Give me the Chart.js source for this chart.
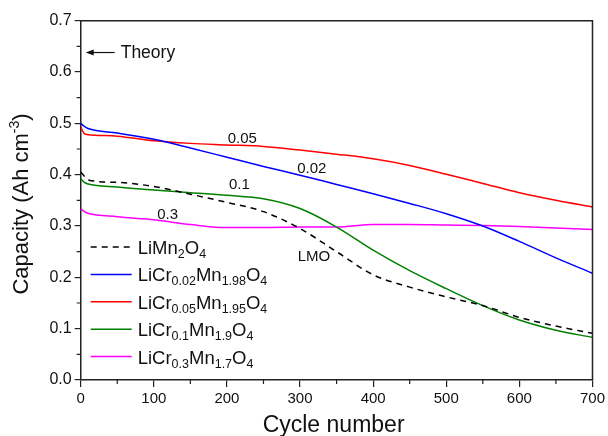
<!DOCTYPE html>
<html>
<head>
<meta charset="utf-8">
<script src="https://cdn.jsdelivr.net/npm/chart.js@4.4.1/dist/chart.umd.min.js"></script>
<style>
  html, body { margin: 0; padding: 0; background: #fff; }
</style>
</head>
<body>
<canvas id="capacityChart" width="608" height="436"></canvas>
<script>
// Cycle numbers shared by all curves
const cycles = [0, 5, 10, 50, 100, 150, 200, 250, 300, 350, 400, 450, 500, 550, 600, 650, 700];

// Capacity (Ah cm-3)
const lmo    = [0.405, 0.397, 0.390, 0.385, 0.377, 0.362, 0.346, 0.328, 0.295, 0.250, 0.205, 0.181, 0.162, 0.145, 0.122, 0.105, 0.091];
const cr002  = [0.500, 0.494, 0.490, 0.481, 0.469, 0.452, 0.434, 0.416, 0.399, 0.381, 0.363, 0.344, 0.324, 0.300, 0.270, 0.238, 0.208];
const cr005  = [0.493, 0.480, 0.478, 0.475, 0.466, 0.461, 0.458, 0.455, 0.448, 0.440, 0.431, 0.418, 0.401, 0.383, 0.365, 0.350, 0.337];
const cr01   = [0.392, 0.385, 0.382, 0.376, 0.370, 0.365, 0.360, 0.353, 0.334, 0.298, 0.253, 0.213, 0.178, 0.145, 0.117, 0.097, 0.083];
const cr03   = [0.334, 0.328, 0.325, 0.318, 0.312, 0.303, 0.297, 0.297, 0.298, 0.298, 0.303, 0.303, 0.302, 0.301, 0.299, 0.296, 0.293];

// Legend names split into [text, subscript] pieces
const legendNames = [
  [['LiMn', ''], ['', '2'], ['O', '4']],
  [['LiCr', '0.02'], ['Mn', '1.98'], ['O', '4']],
  [['LiCr', '0.05'], ['Mn', '1.95'], ['O', '4']],
  [['LiCr', '0.1'], ['Mn', '1.9'], ['O', '4']],
  [['LiCr', '0.3'], ['Mn', '1.7'], ['O', '4']]
];

// Curve labels inside the plot: [text, cycle, capacity]
const curveLabels = [
  ['0.05', 221, 0.469],
  ['0.02', 316, 0.411],
  ['0.1', 217, 0.380],
  ['0.3', 119, 0.321],
  ['LMO', 319, 0.240]
];
const theoryValue = 0.638;

const FONT = '"Liberation Sans", Arial, sans-serif';

function toPoints(values) {
  return values.map((v, i) => ({ x: cycles[i], y: v }));
}

function line(label, values, color, dash) {
  return {
    label: label,
    data: toPoints(values),
    borderColor: color,
    backgroundColor: color,
    borderWidth: 1.5,
    borderDash: dash || [],
    pointRadius: 0,
    cubicInterpolationMode: 'monotone',
    fill: false
  };
}

// Draws frame, minor ticks, titles, labels and legend
const decorations = {
  id: 'decorations',
  afterDraw(chart) {
    const ctx = chart.ctx;
    const x = chart.scales.x;
    const y = chart.scales.y;
    const a = chart.chartArea;
    ctx.save();

    // top and right frame
    ctx.strokeStyle = '#222';
    ctx.lineWidth = 1.5;
    ctx.beginPath();
    ctx.moveTo(a.left, a.top);
    ctx.lineTo(a.right, a.top);
    ctx.lineTo(a.right, a.bottom);
    ctx.stroke();

    // minor ticks
    ctx.lineWidth = 1.2;
    ctx.beginPath();
    for (let c = 50; c < 700; c += 100) {
      const px = x.getPixelForValue(c);
      ctx.moveTo(px, a.bottom);
      ctx.lineTo(px, a.bottom + 4);
    }
    for (let v = 0.05; v < 0.7; v += 0.1) {
      const py = y.getPixelForValue(v);
      ctx.moveTo(a.left, py);
      ctx.lineTo(a.left - 4, py);
    }
    ctx.stroke();

    // axis titles
    ctx.fillStyle = '#111';
    ctx.textBaseline = 'alphabetic';
    ctx.textAlign = 'center';
    ctx.font = '23px ' + FONT;
    ctx.fillText('Cycle number', (a.left + a.right) / 2 - 3, 432);

    ctx.save();
    ctx.translate(28, 204);
    ctx.rotate(-Math.PI / 2);
    ctx.textAlign = 'left';
    const main1 = 'Capacity (Ah cm';
    ctx.font = '22px ' + FONT;
    const w1 = ctx.measureText(main1).width;
    const w3 = ctx.measureText(')').width;
    ctx.font = '14px ' + FONT;
    const w2 = ctx.measureText('-3').width;
    let sx = -(w1 + w2 + w3) / 2;
    ctx.font = '22px ' + FONT;
    ctx.fillText(main1, sx, 0);
    ctx.font = '14px ' + FONT;
    ctx.fillText('-3', sx + w1, -9);
    ctx.font = '22px ' + FONT;
    ctx.fillText(')', sx + w1 + w2, 0);
    ctx.restore();

    // Theory arrow
    const ty = y.getPixelForValue(theoryValue);
    ctx.strokeStyle = '#111';
    ctx.lineWidth = 1.2;
    ctx.beginPath();
    ctx.moveTo(a.left + 34, ty);
    ctx.lineTo(a.left + 10, ty);
    ctx.stroke();
    ctx.beginPath();
    ctx.moveTo(a.left + 5, ty);
    ctx.lineTo(a.left + 13, ty - 3);
    ctx.lineTo(a.left + 13, ty + 3);
    ctx.closePath();
    ctx.fill();
    ctx.textAlign = 'left';
    ctx.textBaseline = 'middle';
    ctx.font = '17.5px ' + FONT;
    ctx.fillText('Theory', a.left + 40, ty + 1);

    // curve labels
    ctx.textAlign = 'center';
    ctx.font = '15px ' + FONT;
    curveLabels.forEach(([t, cx, cv]) => {
      ctx.fillText(t, x.getPixelForValue(cx), y.getPixelForValue(cv));
    });

    // legend
    const rowTop = 247;
    const rowGap = 27.4;
    chart.data.datasets.forEach((ds, i) => {
      const ry = rowTop + i * rowGap;
      ctx.strokeStyle = ds.borderColor;
      ctx.lineWidth = 1.5;
      ctx.setLineDash(ds.borderDash);
      ctx.beginPath();
      ctx.moveTo(a.left + 10, ry);
      ctx.lineTo(a.left + 51, ry);
      ctx.stroke();
      ctx.setLineDash([]);
      ctx.fillStyle = '#111';
      ctx.textAlign = 'left';
      ctx.textBaseline = 'alphabetic';
      let lx = a.left + 57;
      legendNames[i].forEach(([main, sub]) => {
        ctx.font = '18.5px ' + FONT;
        ctx.fillText(main, lx, ry + 7);
        lx += ctx.measureText(main).width;
        if (sub) {
          ctx.font = '12.5px ' + FONT;
          ctx.fillText(sub, lx, ry + 11);
          lx += ctx.measureText(sub).width;
        }
      });
    });

    ctx.restore();
  }
};

const ctx = document.getElementById('capacityChart').getContext('2d');
const capacityChart = new Chart(ctx, {
  type: 'line',
  data: {
    datasets: [
      line('LiMn2O4', lmo, '#000000', [6, 5]),
      line('LiCr0.02Mn1.98O4', cr002, '#0000ff'),
      line('LiCr0.05Mn1.95O4', cr005, '#ff0000'),
      line('LiCr0.1Mn1.9O4', cr01, '#008000'),
      line('LiCr0.3Mn1.7O4', cr03, '#ff00ff')
    ]
  },
  options: {
    responsive: false,
    animation: false,
    layout: { padding: { left: 0, right: 14.5, top: 20.7, bottom: 0 } },
    plugins: {
      legend: { display: false },
      tooltip: { enabled: false }
    },
    scales: {
      x: {
        type: 'linear',
        min: 0,
        max: 700,
        afterFit: (s) => { s.height = 56; },
        border: { color: '#222', width: 1.5 },
        grid: { drawOnChartArea: false, drawTicks: true, tickLength: 7, color: '#222', lineWidth: 1.2 },
        ticks: { stepSize: 100, color: '#111', font: { family: FONT, size: 15 }, padding: 3, maxRotation: 0 }
      },
      y: {
        min: 0,
        max: 0.7,
        afterFit: (s) => { s.width = 80.7; },
        border: { color: '#222', width: 1.5 },
        grid: { drawOnChartArea: false, drawTicks: true, tickLength: 6, color: '#222', lineWidth: 1.2 },
        ticks: {
          stepSize: 0.1,
          color: '#111',
          font: { family: FONT, size: 16 },
          padding: 3,
          callback: (v) => v.toFixed(1)
        }
      }
    }
  },
  plugins: [decorations]
});
</script>
</body>
</html>
